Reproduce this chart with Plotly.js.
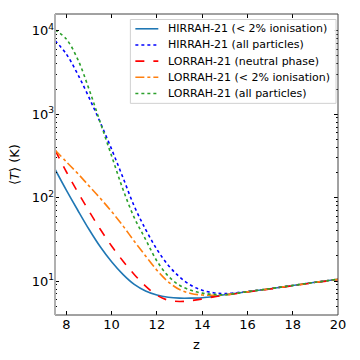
<!DOCTYPE html>
<html>
<head>
<meta charset="utf-8">
<script src="https://cdn.plot.ly/plotly-3.0.1.min.js"></script>
<style>
  html, body { margin: 0; padding: 0; background: #fff; }
  #chart { width: 360px; height: 360px; }
</style>
</head>
<body>
<div id="chart"></div>
<script>
// redshift grid shared by all curves
const z = [7.5, 8, 8.5, 9, 9.5, 10, 10.5, 11, 11.5, 12, 12.5, 13, 13.5, 14, 14.5, 15, 16, 17, 18, 19, 20]

// mean temperature <T> in K
const hirrahIon = [219, 123, 71, 41.7, 25.7, 17, 12, 9.1, 7.6, 6.8, 6.4, 6.24, 6.24, 6.31, 6.53, 6.84, 7.45, 8.1, 8.85, 9.65, 10.5]
const hirrahAll = [7600, 5250, 3020, 1585, 794, 380, 174, 79, 41.7, 24, 15.5, 11.2, 8.9, 7.76, 7.24, 7.08, 7.5, 8.1, 8.85, 9.65, 10.5]
const lorrahNeutral = [372, 204, 117, 69, 41.7, 26.3, 17.4, 12.0, 8.7, 6.76, 5.89, 5.69, 5.82, 6.1, 6.46, 6.76, 7.38, 8.02, 8.78, 9.58, 10.4]
const lorrahIon = [372, 269, 195, 138, 98, 68, 46, 30, 20, 13.5, 9.8, 7.9, 7.1, 6.8, 6.75, 6.85, 7.45, 8.1, 8.85, 9.65, 10.5]
const lorrahAll = [10230, 7940, 4570, 2000, 794, 316, 126, 57.5, 31.6, 17.4, 11.5, 8.9, 7.76, 7.16, 6.92, 6.85, 7.45, 8.1, 8.85, 9.65, 10.5]

const names = [
    'HIRRAH-21 (&lt; 2% ionisation)',
    'HIRRAH-21 (all particles)',
    'LORRAH-21 (neutral phase)',
    'LORRAH-21 (&lt; 2% ionisation)',
    'LORRAH-21 (all particles)',
]

const yTickVals = [10, 100, 1000, 10000]
const yTickText = ['10<sup>1</sup>', '10<sup>2</sup>', '10<sup>3</sup>', '10<sup>4</sup>']
const xTickVals = [8, 10, 12, 14, 16, 18, 20]

const series = [hirrahIon, hirrahAll, lorrahNeutral, lorrahIon, lorrahAll]
const styles = [
    {color: '#1f77b4', dash: 'solid'},
    {color: '#0000ff', dash: 'dot'},
    {color: '#ff0000', dash: 'dash'},
    {color: '#ff7f0e', dash: 'dashdot'},
    {color: '#2ca02c', dash: 'dot'},
]

const data = series.map((y, i) => ({
    x: z,
    y: y,
    name: names[i],
    type: 'scatter',
    mode: 'lines',
    line: {color: styles[i].color, dash: styles[i].dash, width: 1.6, shape: 'spline', smoothing: 1},
}))

// plot box in pixels, used to place the hand-made legend (matplotlib style, tight rows)
const W = 360, H = 360
const M = {l: 54.5, r: 22, t: 13.5, b: 45}
const px = (x) => (x - M.l) / (W - M.l - M.r)
const py = (y) => (H - M.b - y) / (H - M.t - M.b)

const legendShapes = [
    {type: 'rect', xref: 'paper', yref: 'paper', x0: px(130), x1: px(336), y0: py(19), y1: py(103),
     fillcolor: 'rgba(255,255,255,0.9)', line: {color: '#d0d0d0', width: 1}, layer: 'above'},
]
const legendNotes = []
names.forEach((name, i) => {
    const rowY = 28.3 + 16.2 * i
    legendShapes.push({
        type: 'line', xref: 'paper', yref: 'paper', x0: px(135), x1: px(158), y0: py(rowY), y1: py(rowY),
        line: {color: styles[i].color, dash: styles[i].dash, width: 1.6}, layer: 'above',
    })
    legendNotes.push({
        xref: 'paper', yref: 'paper', x: px(166), y: py(rowY), xanchor: 'left', yanchor: 'middle',
        text: name, showarrow: false,
        font: {family: 'DejaVu Sans, sans-serif', size: 11, color: '#000'},
    })
})

const font = {family: 'DejaVu Sans, sans-serif', size: 13, color: '#000'}

const layout = {
    width: W,
    height: H,
    margin: M,
    paper_bgcolor: '#fff',
    plot_bgcolor: '#fff',
    font: font,
    showlegend: false,
    xaxis: {
        range: [7.5, 20],
        tickvals: xTickVals,
        ticks: 'inside', ticklen: 4, tickcolor: '#000', tickwidth: 1,
        mirror: 'ticks',
        showline: false, showgrid: false, zeroline: false,
        tickfont: font,
        title: {text: 'z', font: font, standoff: 8},
    },
    yaxis: {
        type: 'log',
        range: [0.593, 4.2],
        tickvals: yTickVals,
        ticktext: yTickText,
        ticks: 'inside', ticklen: 4, tickcolor: '#000', tickwidth: 1,
        minor: {dtick: 'D1', ticks: 'inside', ticklen: 2, tickcolor: '#000', tickwidth: 1, showgrid: false},
        mirror: 'ticks',
        showline: false, showgrid: false, zeroline: false,
        tickfont: font,
        title: {text: '⟨<i>T</i>⟩ (K)', font: font, standoff: 9},
    },
    shapes: [
        // frame
        {type: 'rect', xref: 'paper', yref: 'paper', x0: 0, x1: 1, y0: 0, y1: 1, line: {color: '#444', width: 1}},
        // left spine drawn light grey and thick as in the figure
        {type: 'line', xref: 'paper', yref: 'paper', x0: 0, x1: 0, y0: 0, y1: 1, line: {color: '#b0b0b0', width: 2}},
    ].concat(legendShapes),
    annotations: legendNotes,
}

Plotly.newPlot('chart', data, layout, {displayModeBar: false, staticPlot: true})
</script>
</body>
</html>
